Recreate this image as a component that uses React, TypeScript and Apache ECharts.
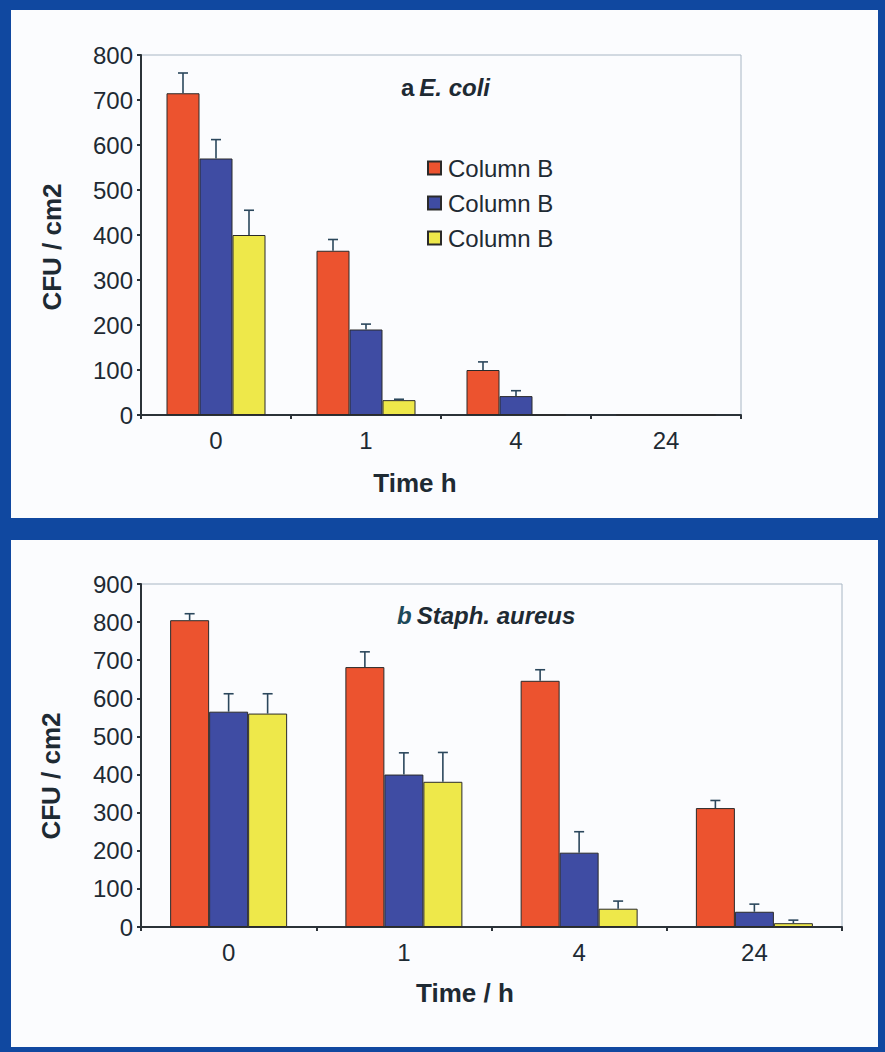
import React, { useEffect, useRef } from "react";
import * as echarts from "echarts";

const categories = ["0", "1", "4", "24"];
const legendLabels = ["Column B", "Column B", "Column B"];

// Panel a: E. coli
const ecoliRed = [715, 365, 100, 0];
const ecoliBlue = [570, 190, 42, 0];
const ecoliYellow = [400, 33, 0, 0];
const ecoliRedErr = [45, 25, 18, 0];
const ecoliBlueErr = [42, 12, 12, 0];
const ecoliYellowErr = [55, 2, 0, 0];

// Panel b: Staph. aureus
const staphRed = [805, 682, 646, 312];
const staphBlue = [565, 400, 195, 40];
const staphYellow = [560, 381, 48, 10];
const staphRedErr = [17, 40, 29, 20];
const staphBlueErr = [47, 57, 55, 20];
const staphYellowErr = [52, 77, 20, 8];

const yTicksA = { min: 0, max: 800, interval: 100 };
const yTicksB = { min: 0, max: 900, interval: 100 };

const COLORS = ["#ec532f", "#3f4ca3", "#eee84a"];
const FONT = "Liberation Sans, Arial, sans-serif";
const TEXT = "#1e2a33";
const ERR = "#2b475c";

function bars(prefix: string, gi: number, vals: number[][], bw: number) {
  return vals.map((v, k) => ({
    name: `${prefix}${k}`,
    type: "bar",
    xAxisIndex: gi,
    yAxisIndex: gi,
    data: v,
    barWidth: bw,
    barGap: "0%",
    itemStyle: { color: COLORS[k], borderColor: "#2a2a2a", borderWidth: 1 },
    z: 2,
  }));
}

function errs(gi: number, vals: number[][], errors: number[][], bw: number) {
  return vals.map((v, k) => ({
    type: "custom",
    xAxisIndex: gi,
    yAxisIndex: gi,
    z: 5,
    silent: true,
    encode: { x: 0, y: 1 },
    data: v.map((val, i) => [i, val, errors[k][i]]),
    renderItem: (params: any, api: any) => {
      const ci = api.value(0);
      const val = api.value(1);
      const e = api.value(2);
      if (!e) return null;
      const base = api.coord([ci, val]);
      const top = api.coord([ci, val + e]);
      const x = base[0] + (k - 1) * bw;
      const style = { stroke: ERR, lineWidth: 1.6 };
      return {
        type: "group",
        children: [
          { type: "line", shape: { x1: x, y1: base[1], x2: x, y2: top[1] }, style },
          { type: "line", shape: { x1: x - 5, y1: top[1], x2: x + 5, y2: top[1] }, style },
        ],
      };
    },
  }));
}

export default function App() {
  const ref = useRef<HTMLDivElement>(null);
  useEffect(() => {
    if (!ref.current) return;
    const chart = echarts.init(ref.current, undefined, { renderer: "svg" });
    const bwA = 33;
    const bwB = 39;
    const valsA = [ecoliRed, ecoliBlue, ecoliYellow];
    const errsA = [ecoliRedErr, ecoliBlueErr, ecoliYellowErr];
    const valsB = [staphRed, staphBlue, staphYellow];
    const errsB = [staphRedErr, staphBlueErr, staphYellowErr];

    const xAxisCommon = {
      type: "category",
      data: categories,
      axisLine: { lineStyle: { color: "#2b3238", width: 2 } },
      axisTick: { show: true, length: 4, inside: false, lineStyle: { color: "#2b3238", width: 2 } },
      axisLabel: { fontSize: 24, color: TEXT, fontFamily: FONT, margin: 13 },
      splitLine: { show: false },
    };
    const yAxisCommon = {
      type: "value",
      axisLine: { show: true, lineStyle: { color: "#2b3238", width: 2 } },
      axisTick: { show: true, length: 4, lineStyle: { color: "#2b3238", width: 2 } },
      axisLabel: { fontSize: 24, color: TEXT, fontFamily: FONT, margin: 8 },
      splitLine: { show: false },
    };
    const axisTitle = (text: string, x: number, y: number, rotate = 0) => ({
      type: "text",
      x,
      y,
      rotation: rotate,
      style: {
        text,
        fontSize: 26,
        fontWeight: "bold",
        fontFamily: FONT,
        fill: TEXT,
        align: "center",
        verticalAlign: "middle",
      },
    });

    chart.setOption({
      animation: false,
      backgroundColor: "#1048a0",
      title: [
        {
          text: "{a|a} {b|E. coli}",
          left: 396,
          top: 70,
          textStyle: {
            rich: {
              a: { fontSize: 24, fontWeight: "bold", fontFamily: FONT, color: TEXT },
              b: { fontSize: 24, fontWeight: "bold", fontStyle: "italic", fontFamily: FONT, color: TEXT },
            },
          },
        },
        {
          text: "{a|b} {b|Staph. aureus}",
          left: 392,
          top: 598,
          textStyle: {
            rich: {
              a: { fontSize: 24, fontWeight: "bold", fontStyle: "italic", fontFamily: FONT, color: "#1d4a5a" },
              b: { fontSize: 24, fontStyle: "italic", fontWeight: "bold", fontFamily: FONT, color: TEXT },
            },
          },
        },
      ],
      legend: {
        data: ["ec0", "ec1", "ec2"],
        orient: "vertical",
        left: 422,
        top: 151,
        itemWidth: 13,
        itemHeight: 13,
        itemGap: 11,
        icon: "rect",
        formatter: (name: string) => legendLabels[Number(name.slice(2))],
        textStyle: { fontSize: 24, color: TEXT, fontFamily: FONT, padding: [0, 0, 0, 2] },
      },
      graphic: [
        { type: "rect", shape: { x: 11, y: 10, width: 867, height: 508 }, style: { fill: "#fbfcfe" }, z: -10 },
        { type: "rect", shape: { x: 11, y: 540, width: 867, height: 507 }, style: { fill: "#fbfcfe" }, z: -10 },
        axisTitle("Time h", 415, 483),
        axisTitle("Time / h", 465, 993),
        axisTitle("CFU / cm2", 52, 247, Math.PI / 2),
        axisTitle("CFU / cm2", 51, 776, Math.PI / 2),
      ],
      grid: [
        { left: 141, top: 55, width: 600, height: 360, show: true, borderColor: "#a8b6c4", borderWidth: 1, backgroundColor: "transparent" },
        { left: 141, top: 584, width: 701, height: 343, show: true, borderColor: "#a8b6c4", borderWidth: 1, backgroundColor: "transparent" },
      ],
      xAxis: [
        { ...xAxisCommon, gridIndex: 0 },
        { ...xAxisCommon, gridIndex: 1 },
      ],
      yAxis: [
        { ...yAxisCommon, gridIndex: 0, ...yTicksA },
        { ...yAxisCommon, gridIndex: 1, ...yTicksB },
      ],
      series: [
        ...bars("ec", 0, valsA, bwA),
        ...bars("sa", 1, valsB, bwB),
        ...errs(0, valsA, errsA, bwA),
        ...errs(1, valsB, errsB, bwB),
      ],
    });
    return () => chart.dispose();
  }, []);
  return (
    <div
      ref={ref}
      style={{ position: "absolute", left: 0, top: 0, width: 885, height: 1052 }}
    />
  );
}
